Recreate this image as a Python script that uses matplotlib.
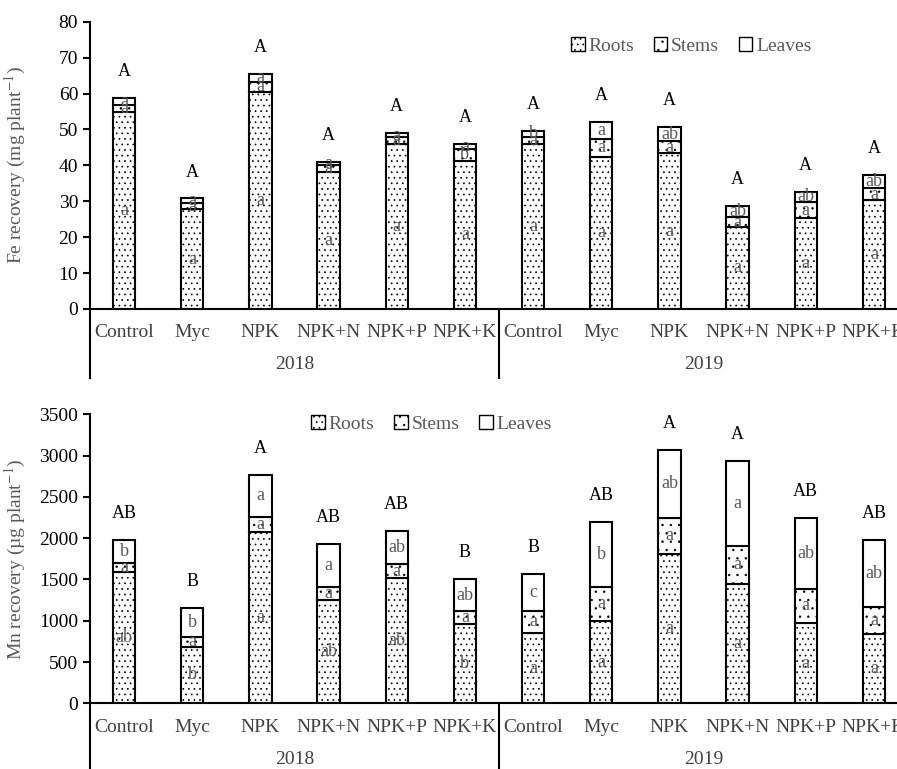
import numpy as np
import matplotlib
matplotlib.use("Agg")
import matplotlib.pyplot as plt
import matplotlib.transforms as mtransforms
from matplotlib.patches import Patch

plt.rcParams["font.family"] = ["Liberation Serif", "DejaVu Serif"]
plt.rcParams["mathtext.fontset"] = "stix"
plt.rcParams["hatch.linewidth"] = 0.5

treatments = ["Control", "Myc", "NPK", "NPK+N", "NPK+P", "NPK+K"] * 2
years = ["2018", "2019"]

# Fe recovery (mg plant-1)
fe_roots = [54.8, 27.8, 60.4, 38.1, 46.0, 41.3, 45.9, 42.4, 43.4, 22.9, 25.3, 30.3]
fe_stems = [2.1, 1.6, 2.9, 1.9, 2.0, 3.2, 2.1, 5.0, 3.4, 2.6, 4.5, 3.3]
fe_leaves = [1.9, 1.4, 2.1, 0.9, 0.9, 1.5, 1.7, 4.6, 3.8, 3.2, 2.9, 3.7]
fe_roots_lab = ["a"] * 12
fe_stems_lab = ["a", "a", "a", "a", "a", "b", "a", "a", "a", "a", "a", "a"]
fe_leaves_lab = ["a", "a", "a", "a", "a", "a", "b", "a", "ab", "ab", "ab", "ab"]
fe_caps = ["A"] * 12

# Mn recovery (ug plant-1)
mn_roots = [1594, 686, 2071, 1251, 1514, 957, 855, 997, 1808, 1445, 976, 839]
mn_stems = [109, 117, 189, 154, 173, 157, 266, 415, 440, 460, 412, 324]
mn_leaves = [275, 347, 505, 524, 404, 388, 449, 784, 823, 1033, 860, 815]
mn_roots_lab = ["ab", "b", "a", "ab", "ab", "b", "a", "a", "a", "a", "a", "a"]
mn_stems_lab = ["a"] * 12
mn_leaves_lab = ["b", "b", "a", "a", "ab", "ab", "c", "b", "ab", "a", "ab", "ab"]
mn_caps = ["AB", "B", "A", "AB", "AB", "B", "B", "AB", "A", "A", "AB", "AB"]

GRAY = "#595959"
DARK = "#404040"


def draw(ax, roots, stems, leaves, rl, sl, ll, caps, ymax, ystep, ylabel, leg_xy):
    x = np.arange(len(treatments))
    roots = np.array(roots, float)
    stems = np.array(stems, float)
    leaves = np.array(leaves, float)
    w = 0.33
    kw = dict(color="white", edgecolor="black", linewidth=1.5)
    ax.bar(x, roots, w, hatch="...", **kw)
    ax.bar(x, stems, w, bottom=roots, hatch="..", **kw)
    ax.bar(x, leaves, w, bottom=roots + stems, **kw)

    for i in range(len(x)):
        ax.text(x[i], roots[i] / 2, rl[i], ha="center", va="center",
                fontsize=13, color=GRAY)
        ax.text(x[i], roots[i] + stems[i] / 2, sl[i], ha="center", va="center",
                fontsize=13, color=GRAY)
        ax.text(x[i], roots[i] + stems[i] + leaves[i] / 2, ll[i], ha="center",
                va="center", fontsize=13, color=GRAY)
        ax.annotate(caps[i], (x[i], roots[i] + stems[i] + leaves[i]),
                    xytext=(0, 19), textcoords="offset points",
                    ha="center", va="center", fontsize=13)

    ax.set_xlim(-0.5, 11.5)
    ax.set_ylim(0, ymax)
    ax.set_yticks(np.arange(0, ymax + 1, ystep))
    ax.set_xticks(x)
    ax.set_xticklabels(treatments, fontsize=14, color=DARK)
    ax.tick_params(axis="x", length=0, pad=11)
    ax.tick_params(axis="y", labelsize=14, length=5, width=1.5, direction="out")
    for s in ["top", "right"]:
        ax.spines[s].set_visible(False)
    for s in ["left", "bottom"]:
        ax.spines[s].set_linewidth(1.5)
    ax.set_ylabel(ylabel, fontsize=14, color=GRAY)
    ax.yaxis.set_label_coords(-0.076, 0.5)

    # year grouping under the categories
    tr = mtransforms.blended_transform_factory(ax.transData, ax.transAxes)
    for xs in [-0.5, 5.5]:
        ax.plot([xs, xs], [0, -0.24], transform=tr, clip_on=False,
                color="black", linewidth=1.5)
    for j, yr in enumerate(years):
        ax.text(2.5 + 6 * j, -0.193, yr, transform=tr, ha="center",
                va="center", fontsize=14, color=DARK)

    handles = [
        Patch(facecolor="white", edgecolor="black", hatch="...", label="Roots"),
        Patch(facecolor="white", edgecolor="black", hatch="..", label="Stems"),
        Patch(facecolor="white", edgecolor="black", label="Leaves"),
    ]
    ax.legend(handles=handles, loc="center", bbox_to_anchor=leg_xy, ncol=3,
              frameon=False, fontsize=14, labelcolor=GRAY, handlelength=0.7,
              handleheight=0.7, handletextpad=0.2, columnspacing=1.0)


fig = plt.figure(figsize=(8.97, 7.69), dpi=100)
ax1 = fig.add_axes([90 / 897, 1 - 309 / 769, 818 / 897, 287.3 / 769])
ax2 = fig.add_axes([90 / 897, 1 - 703.3 / 769, 818 / 897, 289 / 769])

draw(ax1, fe_roots, fe_stems, fe_leaves, fe_roots_lab, fe_stems_lab,
     fe_leaves_lab, fe_caps, 80, 10, "Fe recovery (mg plant$^{-1}$)",
     (0.735, 0.915))
draw(ax2, mn_roots, mn_stems, mn_leaves, mn_roots_lab, mn_stems_lab,
     mn_leaves_lab, mn_caps, 3500, 500, "Mn recovery (µg plant$^{-1}$)",
     (0.4175, 0.966))

fig.savefig("out.png", dpi=100)
